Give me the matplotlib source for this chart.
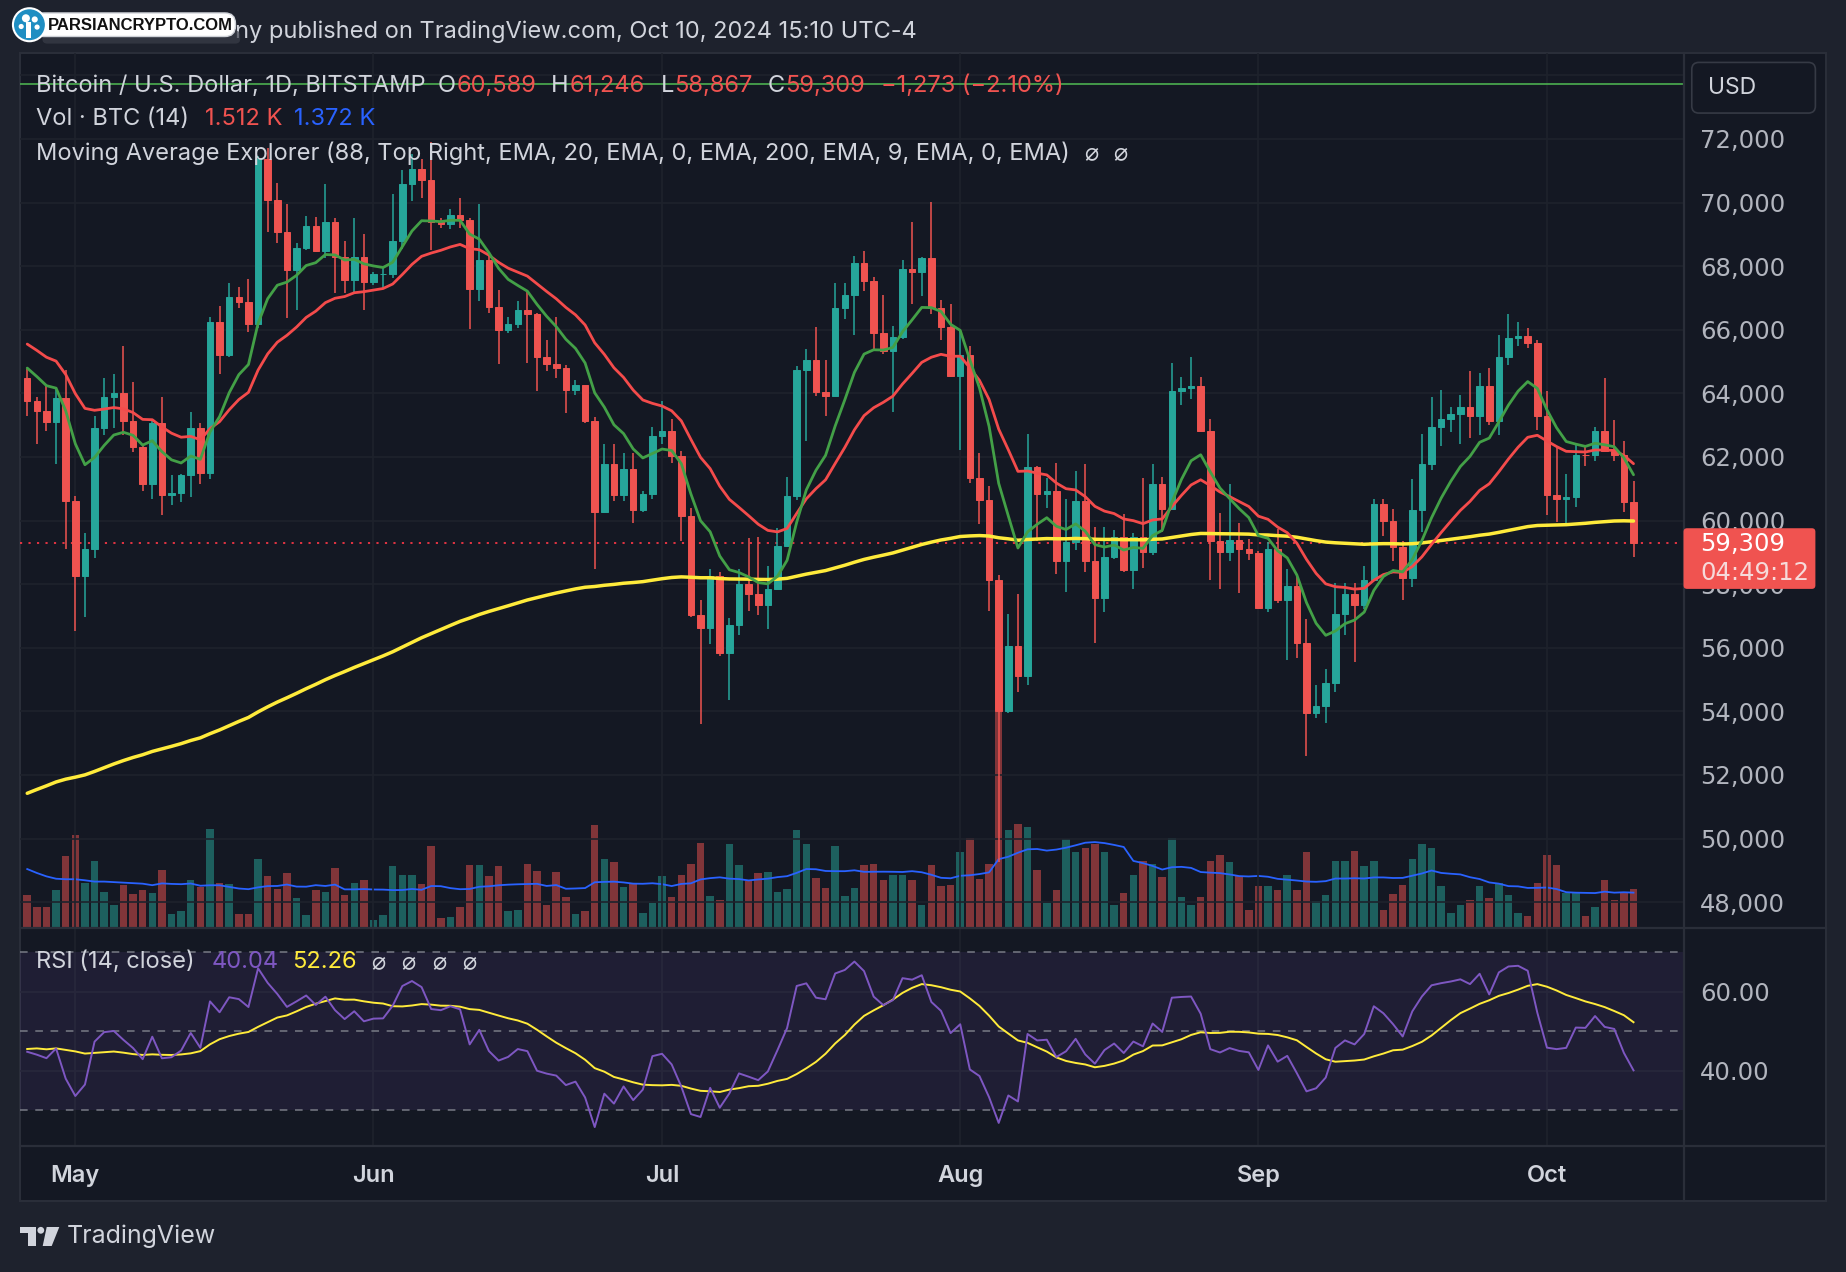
import matplotlib
matplotlib.use("Agg")
import matplotlib.pyplot as plt
import matplotlib.transforms as mtransforms
from matplotlib.lines import Line2D
from matplotlib.patches import Circle, FancyBboxPatch, Polygon, Rectangle
from matplotlib.ticker import FuncFormatter
import numpy as np
import pandas as pd

# ---- BTC/USD 1D, Bitstamp, 2024-04-26 .. 2024-10-10 ----
START = "2024-04-26"

opens = [
    64480, 63770, 63460, 63100, 63850,
    60610, 58260, 59120, 62900, 63880, 64000, 63120, 62300, 61140, 63070, 60790, 60880, 61420, 62900, 61510,
    66230, 65210, 67020, 66860, 66190, 71370, 70090, 69090, 67890, 68560, 69260, 68470, 69390, 68300, 67560, 68300,
    67510, 67740, 67760, 68790, 70580, 71070, 70720, 69390, 69320, 69610, 69440, 67280, 68210, 66720, 65980,
    66190, 66630, 66490, 65140, 64930, 64790, 64120, 64260, 63120, 60260, 61770, 60790, 61630, 60320, 60840,
    62670, 62810, 62020, 60140, 57020, 56630, 58260, 55840, 56720, 58020, 57680, 57330, 57850, 59190, 60770,
    64740, 65040, 64040, 63930, 66670, 67090, 68110, 67540, 65910, 65330, 65770, 67910, 67820, 68260, 66670, 66100,
    64560, 65210, 61350, 60650, 58120, 54000, 56050, 55100, 61670, 60840, 60920, 58740, 59320, 60600, 58740,
    57560, 58860, 59490, 58440, 59490, 59000, 61140, 60350, 64090, 64180, 64230, 62830, 59370, 59000, 59380, 59100,
    58970, 57250, 59100, 57490, 57930, 56140, 53950, 54160, 54880, 57070, 57680, 57330, 58120, 60530, 60000,
    59180, 58210, 60320, 61770, 62950, 63180, 63350, 63560, 63300, 64230, 63120, 65140, 65750, 65820, 65580,
    63300, 60790, 60670, 60750, 62070, 62050, 62830, 62190, 62070, 60589,
]
highs = [
    64780, 63880, 64260, 64200, 64730,
    60780, 59610, 63300, 64490, 64610, 65490, 64350, 62420, 63210, 63880, 61420, 61460, 63420, 63070, 66400,
    66750, 67460, 67330, 67600, 71460, 71720, 70610, 69960, 68740, 69580, 69560, 70580, 69530, 68790, 69530, 69000,
    67810, 67950, 70260, 71030, 71540, 71370, 71890, 69530, 69790, 70140, 69530, 69960, 68330, 67250, 66400,
    66890, 67250, 66540, 65670, 66400, 64880, 64420, 64260, 63250, 62420, 62420, 62140, 62120, 60930, 62950,
    63760, 63180, 62180, 60410, 57510, 58470, 58380, 56950, 58470, 59440, 59490, 58560, 59770, 61370, 64860,
    65390, 66090, 65040, 67460, 67460, 68330, 68470, 67670, 67090, 66120, 68210, 69390, 68290, 70020, 66930, 66810,
    66040, 65490, 62120, 61100, 58300, 57070, 57680, 62720, 61720, 61340, 61800, 60670, 61560, 61790, 59790,
    59790, 59700, 60210, 59610, 61350, 61790, 61370, 64960, 64530, 65130, 64520, 63210, 60230, 61160, 59910, 59430,
    59050, 59340, 59720, 58470, 58300, 56910, 54840, 55320, 58040, 58040, 58040, 58560, 60670, 60670, 60370,
    59350, 61320, 62720, 63880, 64120, 63560, 63950, 64700, 64650, 64790, 65840, 66510, 66230, 66050, 65670,
    64090, 62330, 61460, 62420, 62370, 62950, 64470, 63160, 62510, 61246,
]
lows = [
    63300, 62420, 62820, 61770, 59120,
    56540, 56980, 58820, 62680, 62900, 62680, 62160, 60930, 60670, 60190, 60490, 60580, 60750, 61140, 61320,
    64610, 65140, 66680, 65930, 66060, 69090, 68740, 66370, 66630, 68510, 68440, 68260, 67160, 67160, 67160, 66630,
    67420, 67280, 67630, 68540, 70050, 70140, 68510, 69210, 69160, 69210, 66020, 66890, 66540, 64930, 65890,
    66050, 64950, 64090, 64700, 64470, 63390, 63960, 63060, 58470, 60230, 60620, 60610, 59910, 60270, 60670,
    62400, 61810, 59350, 56980, 53600, 56110, 55750, 54360, 56400, 57160, 57040, 56580, 57810, 59180, 60650,
    62510, 63910, 63300, 63910, 66330, 65840, 67230, 65390, 65230, 63400, 65700, 66800, 67070, 66510, 65670, 64530,
    62210, 61190, 59880, 57160, 49250, 53950, 54610, 54820, 59350, 60400, 58330, 57740, 59090, 58390, 56160,
    57110, 58790, 58390, 57860, 58510, 58910, 59650, 60350, 63650, 63820, 62780, 58120, 57860, 58740, 57720, 58770,
    57210, 57120, 57400, 55630, 55680, 52600, 53800, 53650, 54610, 56400, 55540, 57210, 58090, 59520, 58740,
    57510, 57900, 59630, 61600, 62330, 62770, 62420, 62600, 62680, 63000, 62680, 64880, 65490, 65440, 62860,
    60190, 59970, 59880, 60420, 61720, 61860, 62160, 61860, 60260, 58867,
]
closes = [
    63770, 63460, 63100, 63850, 60610,
    58260, 59120, 62900, 63880, 64000, 63120, 62300, 61140, 63070, 60790, 60880, 61420, 62900, 61510, 66230,
    65210, 67020, 66860, 66190, 71370, 70090, 69090, 67890, 68560, 69260, 68470, 69390, 68300, 67560, 68300, 67510,
    67740, 67760, 68790, 70580, 71070, 70720, 69390, 69320, 69610, 69440, 67280, 68210, 66720, 65980, 66190,
    66630, 66490, 65140, 64930, 64790, 64120, 64260, 63120, 60260, 61770, 60790, 61630, 60320, 60840, 62670,
    62810, 62020, 60140, 57020, 56630, 58260, 55840, 56720, 58020, 57680, 57330, 57850, 59190, 60770, 64740,
    65040, 64040, 63930, 66670, 67090, 68110, 67540, 65910, 65330, 65770, 67910, 67820, 68260, 66670, 66100, 64560,
    65210, 61350, 60650, 58120, 54000, 56050, 55100, 61670, 60840, 60920, 58740, 59320, 60600, 58740, 57560,
    58860, 59490, 58440, 59490, 59000, 61140, 60350, 64090, 64180, 64230, 62830, 59370, 59000, 59380, 59100, 58970,
    57250, 59100, 57490, 57930, 56140, 53950, 54160, 54880, 57070, 57680, 57330, 58120, 60530, 60000, 59180,
    58210, 60320, 61770, 62950, 63180, 63350, 63560, 63300, 64230, 63120, 65140, 65750, 65820, 65580, 63300,
    60790, 60670, 60750, 62070, 62050, 62830, 62190, 62070, 60582, 59309,
]
volumes = [
    1270, 820, 800, 1460, 2770,
    3550, 1720, 2560, 1400, 900, 1660, 1290, 1440, 1350, 2240, 540, 650, 1830, 1570, 3800,
    1720, 1680, 540, 540, 2640, 1980, 1500, 2110, 1140, 490, 1460, 1400, 2300, 1250, 1720, 1830,
    320, 490, 2370, 2040, 2040, 1680, 3160, 390, 430, 820, 2430, 2430, 1980, 2370, 650,
    690, 2470, 2190, 900, 2150, 1180, 540, 650, 3930, 2640, 2540, 1570, 1720, 580, 970,
    1980, 1180, 2040, 2470, 3270, 1230, 1080, 3230, 2410, 1810, 2090, 2150, 1400, 1480, 3760,
    3230, 1920, 1550, 3160, 1230, 1550, 2410, 2470, 1830, 2040, 2040, 1830, 900, 2410, 1610, 1660,
    2900, 3440, 1870, 2450, 9500, 3760, 3980, 3870, 2210, 970, 1460, 3400, 2900, 3050, 3230,
    2900, 900, 1330, 2040, 2580, 2470, 1940, 3440, 1180, 900, 1180, 2580, 2800, 2520, 2000, 710,
    1610, 1610, 1460, 2040, 1460, 2900, 1030, 1250, 2580, 2580, 2970, 2370, 2580, 710, 1310,
    1660, 2640, 3230, 3050, 1610, 580, 900, 1080, 1610, 1140, 1720, 1250, 580, 470, 1720,
    2800, 2430, 1350, 1350, 470, 800, 1830, 1080, 1350, 1512,
]
# closes before the visible window (2024-03-01 .. 2024-04-25), only used to warm up EMA / RSI
warmup_closes = [
    62440, 62030, 63170, 68330, 63800, 66110, 66930, 68300, 68500, 69020, 72120, 71480, 73080, 71400, 69400,
    65300, 68390, 67550, 61910, 67910, 65490, 63780, 64060, 67230, 69900, 69990, 69450, 70740, 69890, 69640, 71290,
    69700, 65460, 65960, 68500, 67840, 68900, 69360, 71620, 69150, 70590, 70060, 67200, 63770, 65740, 63430,
    63810, 61280, 63510, 63840, 64990, 64930, 66840, 66410, 64300, 64480,
]
# volume MA(14) over the first 13 visible days
vol_ma_head = [2260, 2110, 1980, 1890, 1870, 1870, 1830, 1780, 1780, 1760, 1740, 1720, 1700]
ema200_start = 51300      # EMA 200 at the left edge of the chart
top_line_level = 73740    # thin green line across the top of the pane

assert len(opens) == len(highs) == len(lows) == len(closes) == len(volumes)

# ---- indicators ----
def ema(values, length, seed):
    k = 2 / (length + 1)
    out, prev = [], seed
    for v in values:
        prev = prev + k * (v - prev)
        out.append(prev)
    return np.array(out)


def rsi(values, length=14):
    d = np.diff(values)
    gains, losses = np.clip(d, 0, None), np.clip(-d, 0, None)
    ag, al = gains[:length].mean(), losses[:length].mean()
    out = [np.nan] * length + [100 - 100 / (1 + ag / al)]
    for g, l in zip(gains[length:], losses[length:]):
        ag = (ag * (length - 1) + g) / length
        al = (al * (length - 1) + l) / length
        out.append(100 - 100 / (1 + ag / al))
    return np.array(out)


n = len(closes)
all_closes = np.array(warmup_closes + closes, dtype=float)
ema9 = ema(all_closes, 9, all_closes[0])[-n:]
ema20 = ema(all_closes, 20, all_closes[0])[-n:]
ema200 = ema(closes, 200, ema200_start)
rsi_all = rsi(all_closes)
rsi_line = rsi_all[-n:]
rsi_ma = pd.Series(rsi_all).rolling(14).mean().values[-n:]
vol_ma = pd.Series(volumes, dtype=float).rolling(14).mean().values
vol_ma[:13] = vol_ma_head

o, h, l, c = (np.array(a, dtype=float) for a in (opens, highs, lows, closes))
x = np.arange(n)
dates = pd.date_range(START, periods=n, freq="D")
month_idx = [i for i, d in enumerate(dates) if d.day == 1]
month_lab = [dates[i].strftime("%b") for i in month_idx]

# ---- style ----
W, H = 1846, 1272
RW, RH = 1568, 1080          # layout is measured in reference units
BG = "#1e222d"
PANE = "#141823"
BORDER = "#2a2e39"
GRID = "#1e222c"
TEXT = "#d1d4dc"
MUTED = "#b2b5be"
UP, DOWN = "#26a69a", "#ef5350"
RED_TXT, BLUE_TXT = "#f05350", "#2962ff"
PURPLE, YELLOW = "#7e57c2", "#ffeb3b"
LEG = 17          # legend font size
AXIS = 17.5       # price scale font size

plt.rcParams["font.family"] = ["Inter", "DejaVu Sans"]

fig = plt.figure(figsize=(W / 100, H / 100), dpi=100, facecolor=BG)
REF = mtransforms.Affine2D().scale(1, -1).translate(0, RH).scale(W / RW, H / RH)
FULL = mtransforms.Affine2D().scale(1, -1).translate(0, H)
renderer = fig.canvas.get_renderer()


def rect(x0, y0, x1, y1):
    return [x0 / RW, 1 - y1 / RH, (x1 - x0) / RW, (y1 - y0) / RH]


def put(px, py, s, color=MUTED, size=LEG, ha="left", weight="normal", family=None, z=10):
    kw = {"family": family} if family else {}
    return fig.text(px, py, s, transform=REF, color=color, fontsize=size, ha=ha, va="center",
                    fontweight=weight, zorder=z, **kw)


def put_pair(px, py, key, value, key_color, value_color):
    """key letter followed directly by its value (e.g. O60,589)"""
    t = put(px, py, key, key_color)
    w = t.get_window_extent(renderer).width * RW / W
    put(px + w + 0.5, py, value, value_color)


# panel background and frame
fig.add_artist(Rectangle((17, 45), 1534, 975, transform=REF, facecolor=PANE,
                         edgecolor=BORDER, lw=1.5, zorder=-5))
for xs, ys in [([1430, 1430], [45, 1020]), ([17, 1551], [788, 788]), ([17, 1551], [973, 973])]:
    fig.add_artist(Line2D(xs, ys, transform=REF, color=BORDER, lw=1.6, zorder=1))

XMIN, XMAX = -0.75, 172.2
ax_vol = fig.add_axes(rect(17, 45, 1430, 788))
ax = fig.add_axes(rect(17, 45, 1430, 788))
ax_rsi = fig.add_axes(rect(17, 788, 1430, 973))
ax_time = fig.add_axes(rect(17, 973, 1430, 1020))
for a in (ax_vol, ax, ax_rsi, ax_time):
    a.set_xlim(XMIN, XMAX)
    a.patch.set_visible(False)
    for s in a.spines.values():
        s.set_visible(False)

# volume pane (underneath the candles)
ax_vol.set_ylim(0, 33500)
ax_vol.set_xticks([])
ax_vol.set_yticks([])
vol_colors = np.where(c >= o, UP + "80", DOWN + "80")
ax_vol.bar(x, volumes, width=0.78, color=vol_colors, linewidth=0)
ax_vol.plot(x, vol_ma, color="#2962ff", lw=1.3)

# price pane
ax.set_ylim(47185, 74704)
ax.set_axisbelow(True)
ax.set_xticks(month_idx)
ax.set_yticks(np.arange(48000, 72001, 2000))
ax.set_yticks([74000], minor=True)      # grid line hidden behind the USD box, no label
ax.grid(True, which="both", color=GRID, lw=1.2)
ax.yaxis.tick_right()
ax.yaxis.set_major_formatter(FuncFormatter(lambda v, _: f"{v:,.0f}"))
ax.tick_params(axis="x", length=0, labelbottom=False)
ax.tick_params(axis="y", which="both", length=0, pad=12, labelsize=AXIS, labelcolor=MUTED,
               labelfontfamily="DejaVu Sans")

ax.axhline(top_line_level, color="#4caf50", lw=1.2, zorder=2)
ax.axhline(closes[-1], color="#f23645", lw=1.3, ls=(0, (1.2, 3.5)), zorder=2)

colors = np.where(c >= o, UP, DOWN)
ax.vlines(x, l, h, colors=colors, lw=1.1, zorder=3)
ax.bar(x, np.abs(c - o), bottom=np.minimum(o, c), width=0.68, color=colors,
       edgecolor=colors, linewidth=0.7, zorder=4)

ax.plot(x, ema200, color=YELLOW, lw=2.5, zorder=5, solid_capstyle="round")
ax.plot(x, ema20, color="#f44b4b", lw=2.0, zorder=5, solid_capstyle="round")
ax.plot(x, ema9, color="#43a047", lw=2.0, zorder=5, solid_capstyle="round")

# RSI pane
ax_rsi.set_ylim(20.9, 76.1)
ax_rsi.set_axisbelow(True)
ax_rsi.grid(True, color=GRID, lw=1.2)
ax_rsi.set_xticks(month_idx)
ax_rsi.set_yticks([40, 60])
ax_rsi.yaxis.tick_right()
ax_rsi.yaxis.set_major_formatter(FuncFormatter(lambda v, _: f"{v:.2f}"))
ax_rsi.tick_params(axis="x", length=0, labelbottom=False)
ax_rsi.tick_params(axis="y", length=0, pad=12, labelsize=AXIS, labelcolor=MUTED,
                   labelfontfamily="DejaVu Sans")
ax_rsi.axhspan(30, 70, color=PURPLE, alpha=0.11, lw=0, zorder=1)
for lvl in (70, 50, 30):
    ax_rsi.axhline(lvl, color="#787b86", lw=1.1, ls=(0, (5, 5)), zorder=2)
ax_rsi.plot(x, rsi_line, color=PURPLE, lw=1.4, zorder=4)
ax_rsi.plot(x, rsi_ma, color=YELLOW, lw=1.4, zorder=3)

# time axis
ax_time.set_xticks([])
ax_time.set_yticks([])
for i, lab in zip(month_idx, month_lab):
    ax_time.text(i, 0.45, lab, transform=ax_time.get_xaxis_transform(), ha="center",
                 va="center", color=TEXT, fontsize=17, fontweight="semibold")

# ---- legends ----
y1, y2, y3 = 73, 101, 130
put(31, y1, "Bitcoin / U.S. Dollar, 1D, BITSTAMP", TEXT)
for px, key, val in [(372, "O", "60,589"), (468, "H", "61,246"), (561, "L", "58,867"), (652, "C", "59,309")]:
    put_pair(px, y1, key, val, TEXT, RED_TXT)
put(748, y1, "\u22121,273 (\u22122.10%)", RED_TXT)
put(31, y2, "Vol \u00b7 BTC (14)", TEXT)
put(174, y2, "1.512 K", RED_TXT)
put(250, y2, "1.372 K", BLUE_TXT)
put(31, y3, "Moving Average Explorer (88, Top Right, EMA, 20, EMA, 0, EMA, 200, EMA, 9, EMA, 0, EMA)", TEXT)
for px in (927, 952):
    put(px, y3, "\u2300", TEXT, ha="center")

put(31, 817, "RSI (14, close)", TEXT)
put(180, 817, "40.04", PURPLE)
put(248, 817, "52.26", YELLOW)
for px in (321, 347, 373, 399):
    put(px, 817, "\u2300", TEXT, ha="center")

# price axis decorations
fig.add_artist(FancyBboxPatch((1437, 53), 105, 43, boxstyle="round,pad=0,rounding_size=6",
                              transform=REF, facecolor=PANE, edgecolor="#363a45", lw=1.2, zorder=5))
put(1451, 74.5, "USD", TEXT, size=16.5)
fig.add_artist(FancyBboxPatch((1430, 448.5), 112, 51.5, boxstyle="round,pad=0,rounding_size=3",
                              transform=REF, facecolor="#f05350", edgecolor="none", zorder=5))
put(1444, 462, "59,309", "white", size=AXIS, family="DejaVu Sans")
put(1444, 486.5, "04:49:12", "#f6dada", size=AXIS, family="DejaVu Sans")

# ---- header with watermark logo ----
put(200, 27, "ny published on TradingView.com, Oct 10, 2024 15:10 UTC-4", TEXT, size=17)
fig.add_artist(FancyBboxPatch((36, 26), 168, 11, boxstyle="round,pad=0,rounding_size=4",
                              transform=REF, facecolor="#3a3e49", edgecolor="none", alpha=0.7, zorder=11))
fig.add_artist(FancyBboxPatch((28, 11), 172, 20, boxstyle="round,pad=0,rounding_size=9",
                              transform=REF, facecolor="white", edgecolor="#cfd2d8", lw=1, zorder=12))
fig.add_artist(Circle((25, 21), 14, transform=REF, facecolor="#1f8ec2", edgecolor="white", lw=1.5, zorder=13))
for cx, cy, r in [(22, 15.5, 3.4), (29.5, 16.5, 2.6), (31.5, 23, 2.2), (18, 22.5, 2.2)]:
    fig.add_artist(Circle((cx, cy), r, transform=REF, facecolor="white", edgecolor="none", zorder=14))
fig.add_artist(Rectangle((22.5, 19), 4, 13, transform=REF, facecolor="white", edgecolor="none", zorder=14))
put(41, 21.5, "PARSIANCRYPTO.COM", "#111111", size=12, weight="bold", family="Liberation Sans", z=15)

# ---- TradingView footer logo ----
fig.add_artist(Polygon([(20, 1227), (35.5, 1227), (35.5, 1246), (27.5, 1246), (27.5, 1233), (20, 1233)],
                       closed=True, transform=FULL, facecolor=TEXT, edgecolor="none"))
fig.add_artist(Circle((40.8, 1230.3), 3.4, transform=FULL, facecolor=TEXT, edgecolor="none"))
fig.add_artist(Polygon([(46.7, 1227), (59.3, 1227), (51.7, 1246), (42.7, 1246)], closed=True,
                       transform=FULL, facecolor=TEXT, edgecolor="none"))
put(57, 1050, "TradingView", TEXT, size=18)

fig.savefig("out.png", dpi=100, facecolor=BG)
